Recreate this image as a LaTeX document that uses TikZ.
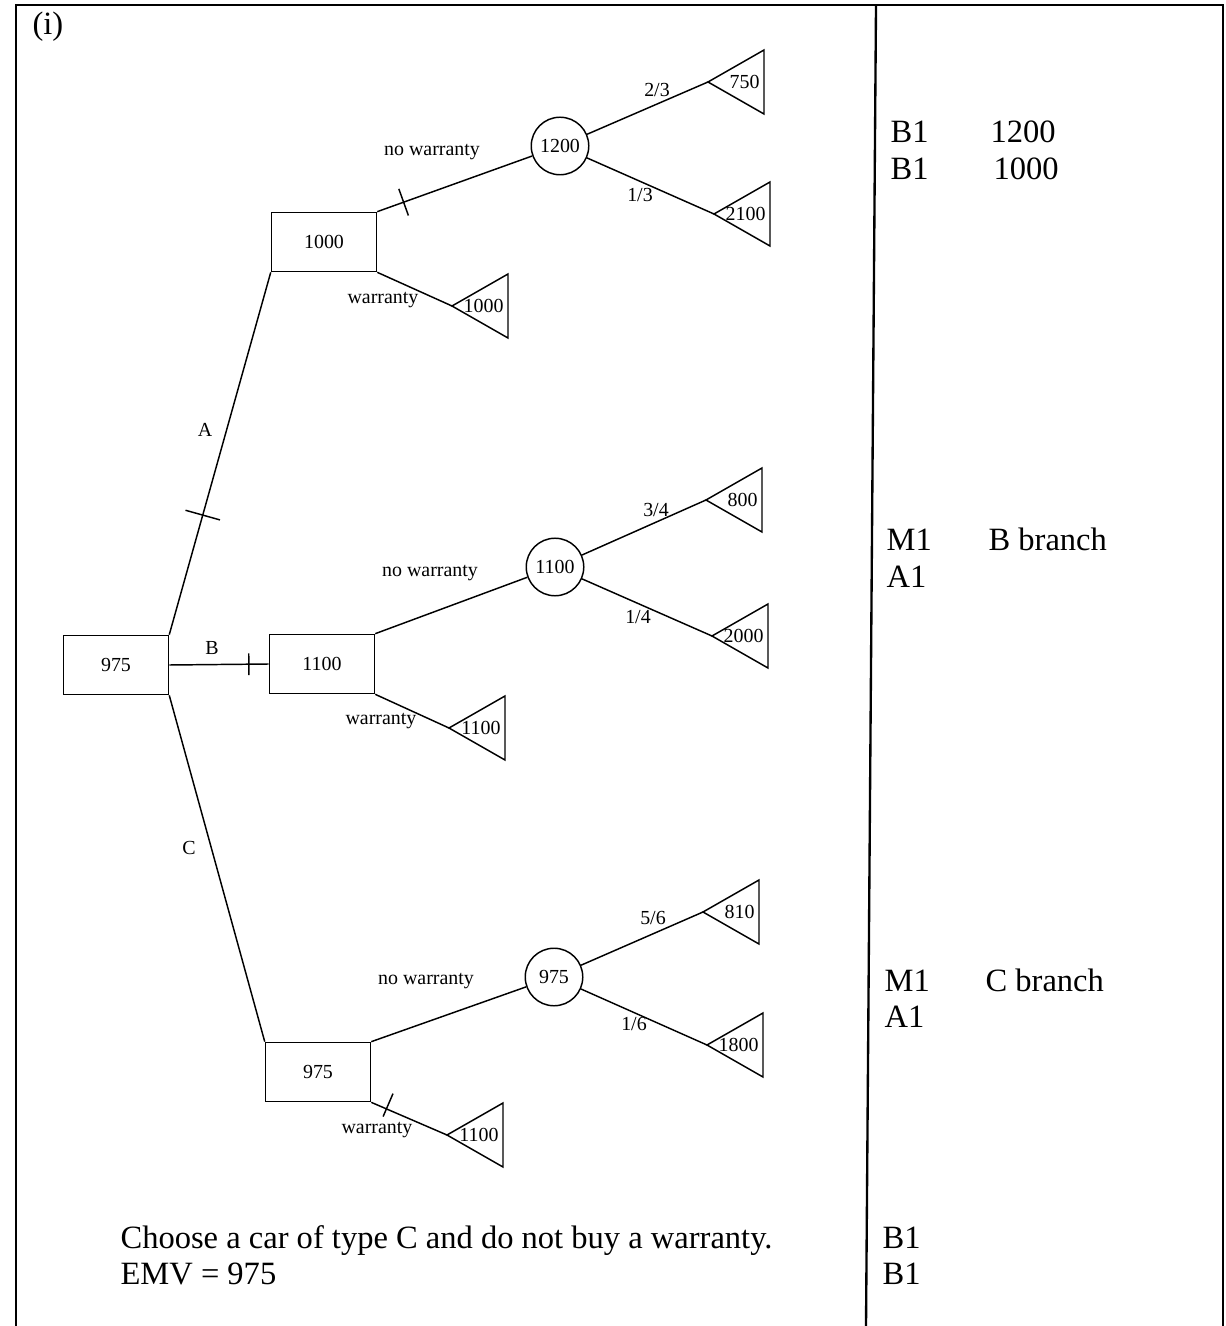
\documentclass[tikz,border=0pt]{standalone}
\usepackage{fontspec}
\setmainfont{Liberation Serif}
\usetikzlibrary{positioning}

\begin{document}
\begin{tikzpicture}[
      x=0.012cm,y=-0.012cm,
      frame/.style={draw, line width=0.8pt},
      branch/.style={draw, line width=0.5pt},
      decbox/.style={draw, line width=0.5pt, minimum width=1.26cm, minimum height=0.71cm, inner sep=0pt, font=\fontsize{6.8}{8}\selectfont},
      chance/.style={draw, circle, line width=0.5pt, minimum size=0.69cm, inner sep=0pt, font=\fontsize{6.8}{8}\selectfont},
      leaf/.style={draw, line width=0.5pt},
      lbl/.style={font=\fontsize{6.8}{8}\selectfont, inner sep=1pt},
      big/.style={font=\fontsize{11.1}{13.5}\selectfont, anchor=base west, inner sep=0pt},
      tickmark/.style={draw, line width=0.5pt, minimum width=0pt, minimum height=#1, inner sep=0pt, outer sep=0pt, sloped}
    ]
      \useasboundingbox (0,0) rectangle (1225,1326);
      \draw[frame] (16,1326) -- (16,5) -- (1223,5) -- (1223,1326);
      \draw[frame] (876,5) -- (866,1326);
      \node[big] (part) at (32,35) {(i)};

      % decision and chance nodes
      \node[decbox] (root) at (116,665) {975};
      \node[decbox] (boxA) at (324,242) {1000};
      \node[decbox] (boxB) at (322,664) {1100};
      \node[decbox] (boxC) at (318,1072) {975};
      \node[chance] (cA) at (560,146) {1200};
      \node[chance] (cB) at (555,567) {1100};
      \node[chance] (cC) at (554,977) {975};

      % payoff triangles
      \foreach \n/\x/\y/\v in {pA1/708/82/750, pA2/714/214/2100, pA3/452/306/1000,
                               pB1/706/500/800, pB2/712/636/2000, pB3/449/728/1100,
                               pC1/703/912/810, pC2/707/1045/1800, pC3/447/1135/1100} {
        \coordinate (\n) at (\x,\y);
        \draw[leaf] (\n) -- ++(56,-32) -- ++(0,64) -- cycle;
        \node[lbl, anchor=east] (v\n) at (\x+55,\y) {\v};
      }

      % branches
      \draw[branch] (root.north east) -- node[tickmark=0.43cm, pos=0.33] (tA) {} (boxA.south west);
      \draw[branch] (root.east) -- node[tickmark=0.26cm, pos=0.8] (tB) {} (boxB.west);
      \draw[branch] (root.south east) -- (boxC.north west);
      \draw[branch] (boxA.north east) -- node[tickmark=0.34cm, pos=0.17] (tAn) {} (cA);
      \draw[branch] (boxA.south east) -- (pA3);
      \draw[branch] (boxB.north east) -- (cB);
      \draw[branch] (boxB.south east) -- (pB3);
      \draw[branch] (boxC.north east) -- (cC);
      \draw[branch] (boxC.south east) -- node[tickmark=0.3cm, pos=0.2, yshift=0.05cm] (tCw) {} (pC3);
      \draw[branch] (cA) -- (pA1);
      \draw[branch] (cA) -- (pA2);
      \draw[branch] (cB) -- (pB1);
      \draw[branch] (cB) -- (pB2);
      \draw[branch] (cC) -- (pC1);
      \draw[branch] (cC) -- (pC2);

      % branch labels
      \node[lbl] (lA) at (205,430) {A};
      \node[lbl] (lB) at (212,648) {B};
      \node[lbl] (lC) at (189,848) {C};
      \node[lbl] (nwA) at (432,152) {no warranty};
      \node[lbl] (nwB) at (430,573) {no warranty};
      \node[lbl] (nwC) at (426,981) {no warranty};
      \node[lbl] (wA) at (383,300) {warranty};
      \node[lbl] (wB) at (381,721) {warranty};
      \node[lbl] (wC) at (377,1130) {warranty};
      \node[lbl] (qA1) at (657,90) {2/3};
      \node[lbl] (qA2) at (640,195) {1/3};
      \node[lbl] (qB1) at (656,510) {3/4};
      \node[lbl] (qB2) at (638,617) {1/4};
      \node[lbl] (qC1) at (653,918) {5/6};
      \node[lbl] (qC2) at (634,1024) {1/6};

      % answer and marks
      \node[big] (ans1) at (120,1248) {Choose a car of type C and do not buy a warranty.};
      \node[big] (ans2) at (120,1284) {EMV = 975};
      \node[big] (m1) at (890,143) {B1};
      \node[big] (m1v) at (990,143) {1200};
      \node[big] (m2) at (890,180) {B1};
      \node[big] (m2v) at (993,180) {1000};
      \node[big] (m3) at (886,551) {M1};
      \node[big] (m3v) at (988,551) {B branch};
      \node[big] (m4) at (886,587) {A1};
      \node[big] (m5) at (884,991) {M1};
      \node[big] (m5v) at (985,991) {C branch};
      \node[big] (m6) at (884,1027) {A1};
      \node[big] (m7) at (882,1248) {B1};
      \node[big] (m8) at (882,1284) {B1};
    \end{tikzpicture}
\end{document}
